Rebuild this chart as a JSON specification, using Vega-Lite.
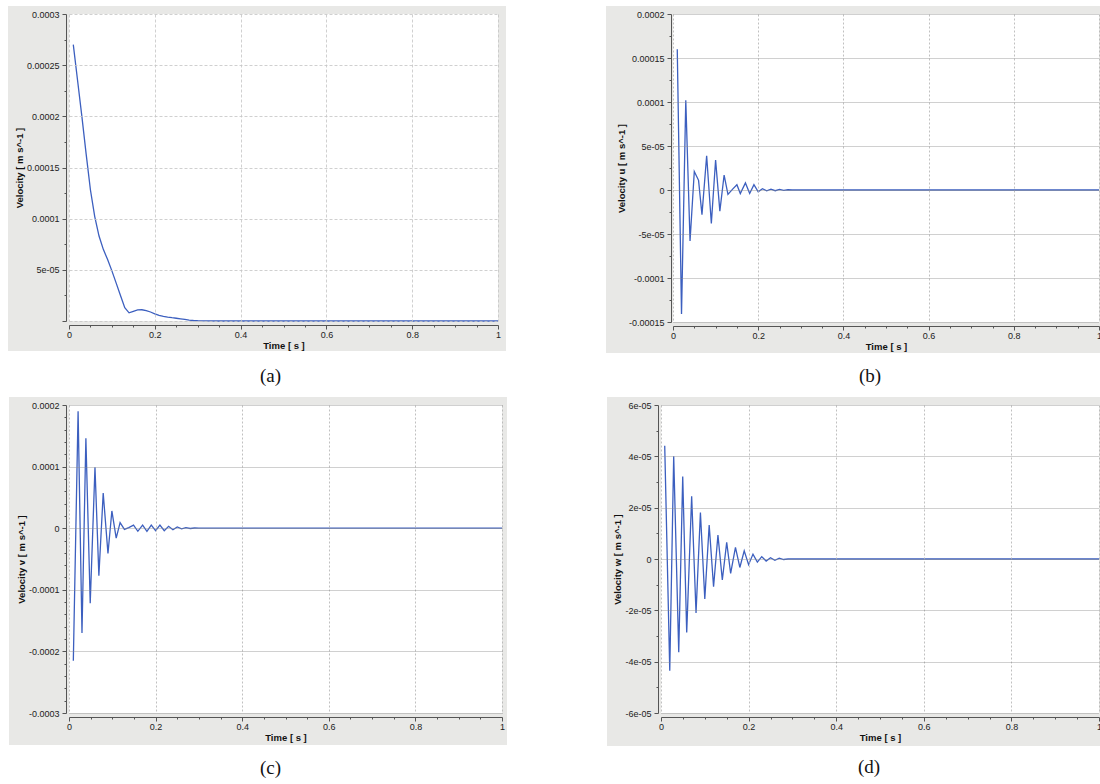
{
  "$schema": "https://vega.github.io/schema/vega-lite/v6.json",
  "padding": {"left": 7, "top": 5, "right": 0, "bottom": 0},
  "background": "white",
  "config": {
    "view": {"stroke": null},
    "axis": {
      "labelFont": "Liberation Sans", "labelFontSize": 9, "labelColor": "#222",
      "titleFont": "Liberation Sans", "titleFontSize": 9.5, "titleFontWeight": "bold", "titleColor": "#111",
      "domainColor": "#555", "tickColor": "#555", "labelFlush": false, "labelOverlap": false,
      "gridWidth": 0.8, "tickCount": 1000
    },
    "title": {"font": "Liberation Serif", "fontSize": 19, "fontWeight": "normal", "color": "#111"}
  },
  "datasets": {
    "a": [
      {"t": 0.01, "v": 0.00027}, {"t": 0.02, "v": 0.000235}, {"t": 0.03, "v": 0.0002}, {"t": 0.04, "v": 0.000163},
      {"t": 0.05, "v": 0.000128}, {"t": 0.06, "v": 0.000102}, {"t": 0.07, "v": 0.000083}, {"t": 0.08, "v": 0.00007},
      {"t": 0.09, "v": 0.00006}, {"t": 0.1, "v": 0.000049}, {"t": 0.11, "v": 0.000037}, {"t": 0.12, "v": 0.000025},
      {"t": 0.13, "v": 0.000013}, {"t": 0.14, "v": 0.000008}, {"t": 0.15, "v": 0.0000095}, {"t": 0.16, "v": 0.0000108},
      {"t": 0.17, "v": 0.000011}, {"t": 0.18, "v": 0.0000102}, {"t": 0.19, "v": 0.0000088}, {"t": 0.2, "v": 0.000007},
      {"t": 0.21, "v": 0.0000055}, {"t": 0.22, "v": 0.0000045}, {"t": 0.23, "v": 0.0000038}, {"t": 0.24, "v": 0.0000032},
      {"t": 0.25, "v": 0.0000027}, {"t": 0.26, "v": 0.0000021}, {"t": 0.27, "v": 0.0000015}, {"t": 0.28, "v": 0.0000009},
      {"t": 0.29, "v": 0.0000005}, {"t": 0.3, "v": 0.0000003}, {"t": 0.32, "v": 0.0000001}, {"t": 0.35, "v": 0},
      {"t": 0.4, "v": 0}, {"t": 0.5, "v": 0}, {"t": 0.6, "v": 0}, {"t": 0.7, "v": 0}, {"t": 0.8, "v": 0}, {"t": 0.9, "v": 0}, {"t": 1.0, "v": 0}
    ],
    "b": [
      {"t": 0.01, "v": 0.00016}, {"t": 0.02, "v": -0.000141}, {"t": 0.03, "v": 0.000102}, {"t": 0.04, "v": -0.000058},
      {"t": 0.05, "v": 0.000021}, {"t": 0.06, "v": 0.000011}, {"t": 0.068, "v": -0.000028}, {"t": 0.079, "v": 0.000039},
      {"t": 0.09, "v": -0.000038}, {"t": 0.1, "v": 0.000034}, {"t": 0.11, "v": -0.000024}, {"t": 0.12, "v": 0.000017},
      {"t": 0.129, "v": -0.000005}, {"t": 0.14, "v": 0.000001}, {"t": 0.15, "v": 0.000006}, {"t": 0.158, "v": -0.000004},
      {"t": 0.17, "v": 0.000008}, {"t": 0.18, "v": -0.000004}, {"t": 0.19, "v": 0.000006}, {"t": 0.2, "v": -0.000002},
      {"t": 0.21, "v": 0.0000015}, {"t": 0.22, "v": -0.000001}, {"t": 0.23, "v": 0.000001}, {"t": 0.24, "v": -0.0000008},
      {"t": 0.25, "v": 0.0000006}, {"t": 0.26, "v": -0.0000004}, {"t": 0.27, "v": 0.0000003}, {"t": 0.28, "v": 0},
      {"t": 0.3, "v": 0}, {"t": 0.4, "v": 0}, {"t": 0.5, "v": 0}, {"t": 0.6, "v": 0}, {"t": 0.7, "v": 0}, {"t": 0.8, "v": 0}, {"t": 0.9, "v": 0}, {"t": 1.0, "v": 0}
    ],
    "c": [
      {"t": 0.01, "v": -0.000215}, {"t": 0.021, "v": 0.00019}, {"t": 0.03, "v": -0.00017}, {"t": 0.039, "v": 0.000146},
      {"t": 0.049, "v": -0.000122}, {"t": 0.06, "v": 0.000099}, {"t": 0.069, "v": -0.000077}, {"t": 0.079, "v": 0.000057},
      {"t": 0.09, "v": -0.000041}, {"t": 0.099, "v": 0.000028}, {"t": 0.109, "v": -0.000016}, {"t": 0.118, "v": 0.000009},
      {"t": 0.128, "v": -0.000002}, {"t": 0.138, "v": 0.000001}, {"t": 0.149, "v": 0.000005}, {"t": 0.159, "v": -0.000005},
      {"t": 0.17, "v": 0.000005}, {"t": 0.18, "v": -0.000005}, {"t": 0.19, "v": 0.000005}, {"t": 0.2, "v": -0.000004},
      {"t": 0.21, "v": 0.000005}, {"t": 0.22, "v": -0.000004}, {"t": 0.23, "v": 0.000003}, {"t": 0.24, "v": -0.0000025},
      {"t": 0.25, "v": 0.000002}, {"t": 0.26, "v": -0.000001}, {"t": 0.27, "v": 0.0000008}, {"t": 0.28, "v": -0.0000005},
      {"t": 0.29, "v": 0.0000003}, {"t": 0.3, "v": 0}, {"t": 0.4, "v": 0}, {"t": 0.5, "v": 0}, {"t": 0.6, "v": 0},
      {"t": 0.7, "v": 0}, {"t": 0.8, "v": 0}, {"t": 0.9, "v": 0}, {"t": 1.0, "v": 0}
    ],
    "d": [
      {"t": 0.0085, "v": 0.0000441}, {"t": 0.02, "v": -0.0000435}, {"t": 0.029, "v": 0.00004}, {"t": 0.0405, "v": -0.0000363},
      {"t": 0.0496, "v": 0.0000321}, {"t": 0.0587, "v": -0.0000286}, {"t": 0.07, "v": 0.0000244}, {"t": 0.08, "v": -0.000021},
      {"t": 0.09, "v": 0.0000181}, {"t": 0.1, "v": -0.0000156}, {"t": 0.11, "v": 0.0000132}, {"t": 0.12, "v": -0.0000108},
      {"t": 0.13, "v": 0.0000093}, {"t": 0.14, "v": -0.0000082}, {"t": 0.15, "v": 0.0000065}, {"t": 0.159, "v": -0.0000056},
      {"t": 0.17, "v": 0.0000045}, {"t": 0.18, "v": -0.0000033}, {"t": 0.19, "v": 0.0000032}, {"t": 0.2, "v": -0.0000022},
      {"t": 0.21, "v": 0.0000019}, {"t": 0.22, "v": -0.0000012}, {"t": 0.23, "v": 0.0000009}, {"t": 0.24, "v": -0.0000008},
      {"t": 0.25, "v": 0.0000005}, {"t": 0.26, "v": -0.0000005}, {"t": 0.27, "v": 0.0000003}, {"t": 0.28, "v": -0.0000002},
      {"t": 0.29, "v": 0}, {"t": 0.3, "v": 0}, {"t": 0.4, "v": 0}, {"t": 0.5, "v": 0}, {"t": 0.6, "v": 0},
      {"t": 0.7, "v": 0}, {"t": 0.8, "v": 0}, {"t": 0.9, "v": 0}, {"t": 1.0, "v": 0}
    ]
  },
  "spacing": 9,
  "vconcat": [
    {
      "spacing": 99,
      "hconcat": [
        {
          "width": 429, "height": 307,
          "title": {"text": "(a)", "orient": "bottom", "offset": 16, "dx": -13},
          "layer": [
            {
              "data": {"values": [{}]},
              "mark": {"type": "rect", "color": "#e8e8e6"},
              "encoding": {
                "x": {"datum": -0.1422, "type": "quantitative", "scale": {"domain": [0, 1], "nice": false, "zero": false}},
                "x2": {"datum": 1.0186},
                "y": {"datum": 0.0003078, "type": "quantitative", "scale": {"domain": [0, 0.0003], "nice": false, "zero": false}},
                "y2": {"datum": -0.00002932}
              }
            },
            {
              "data": {"values": [{}]},
              "mark": {"type": "rect", "color": "white"},
              "encoding": {
                "x": {"datum": 0, "type": "quantitative", "scale": {"domain": [0, 1], "nice": false, "zero": false}},
                "x2": {"datum": 1},
                "y": {"datum": 0.0003, "type": "quantitative", "scale": {"domain": [0, 0.0003], "nice": false, "zero": false}},
                "y2": {"datum": 0}
              }
            },
            {
              "data": {"name": "a"},
              "mark": {"type": "line", "color": "#3c5fbf", "strokeWidth": 1.3},
              "encoding": {
                "x": {
                  "field": "t", "type": "quantitative",
                  "scale": {"domain": [0, 1], "nice": false, "zero": false},
                  "axis": {
                    "zindex": 1, "tickCount": 1000,
                    "title": "Time [ s ]", "offset": 4, "titlePadding": 1, "labelPadding": 1,
                    "values": [0, 0.05, 0.1, 0.15, 0.2, 0.25, 0.3, 0.35, 0.4, 0.45, 0.5, 0.55, 0.6, 0.65, 0.7, 0.75, 0.8, 0.85, 0.9, 0.95, 1],
                    "labelExpr": "round(datum.value*100) % 20 == 0 ? ''+datum.value : ''",
                    "tickSize": {"condition": {"test": "round(datum.value*100) % 20 == 0", "value": 4}, "value": 2},
                    "grid": true, "gridColor": "#c4c4c4", "gridDash": [3, 2],
                    "gridOpacity": {"condition": {"test": "round(datum.value*100) % 20 == 0", "value": 1}, "value": 0}
                  }
                },
                "y": {
                  "field": "v", "type": "quantitative",
                  "scale": {"domain": [0, 0.0003], "nice": false, "zero": false},
                  "axis": {
                    "zindex": 1, "tickCount": 1000,
                    "title": "Velocity [ m s^-1 ]", "offset": 3, "titlePadding": 2, "labelPadding": 3,
                    "values": [0, 0.000025, 0.00005, 0.000075, 0.0001, 0.000125, 0.00015, 0.000175, 0.0002, 0.000225, 0.00025, 0.000275, 0.0003],
                    "labelExpr": "round(datum.value*1000000) % 50 == 0 && datum.value != 0 ? (abs(datum.value) < 0.0001 ? (datum.value<0?'-':'') + replace(format(abs(datum.value),'.0e'),'e-','e-0') : ''+datum.value) : ''",
                    "tickSize": {"condition": {"test": "round(datum.value*1000000) % 50 == 0", "value": 4}, "value": 2},
                    "grid": true, "gridColor": "#c4c4c4", "gridDash": [3, 2],
                    "gridOpacity": {"condition": {"test": "round(datum.value*1000000) % 50 == 0", "value": 1}, "value": 0}
                  }
                }
              }
            }
          ]
        },
        {
          "width": 426, "height": 308,
          "title": {"text": "(b)", "orient": "bottom", "offset": 14, "dx": -16},
          "layer": [
            {
              "data": {"values": [{}]},
              "mark": {"type": "rect", "color": "#e8e8e6"},
              "encoding": {
                "x": {"datum": -0.1573, "type": "quantitative", "scale": {"domain": [0, 1], "nice": false, "zero": false}},
                "x2": {"datum": 1.007},
                "y": {"datum": 0.0002091, "type": "quantitative", "scale": {"domain": [-0.00015, 0.0002], "nice": false, "zero": false}},
                "y2": {"datum": -0.0001852}
              }
            },
            {
              "data": {"values": [{}]},
              "mark": {"type": "rect", "color": "white"},
              "encoding": {
                "x": {"datum": 0, "type": "quantitative", "scale": {"domain": [0, 1], "nice": false, "zero": false}},
                "x2": {"datum": 1},
                "y": {"datum": 0.0002, "type": "quantitative", "scale": {"domain": [-0.00015, 0.0002], "nice": false, "zero": false}},
                "y2": {"datum": -0.00015}
              }
            },
            {
              "data": {"name": "b"},
              "mark": {"type": "line", "color": "#3c5fbf", "strokeWidth": 1.3},
              "encoding": {
                "x": {
                  "field": "t", "type": "quantitative",
                  "scale": {"domain": [0, 1], "nice": false, "zero": false},
                  "axis": {
                    "zindex": 1, "tickCount": 1000,
                    "title": "Time [ s ]", "offset": 4, "titlePadding": 1, "labelPadding": 1,
                    "values": [0, 0.05, 0.1, 0.15, 0.2, 0.25, 0.3, 0.35, 0.4, 0.45, 0.5, 0.55, 0.6, 0.65, 0.7, 0.75, 0.8, 0.85, 0.9, 0.95, 1],
                    "labelExpr": "round(datum.value*100) % 20 == 0 ? ''+datum.value : ''",
                    "tickSize": {"condition": {"test": "round(datum.value*100) % 20 == 0", "value": 4}, "value": 2},
                    "grid": true, "gridColor": "#b0b0b0", "gridDash": [2, 2],
                    "gridOpacity": {"condition": {"test": "round(datum.value*100) % 20 == 0", "value": 1}, "value": 0}
                  }
                },
                "y": {
                  "field": "v", "type": "quantitative",
                  "scale": {"domain": [-0.00015, 0.0002], "nice": false, "zero": false},
                  "axis": {
                    "zindex": 1, "tickCount": 1000,
                    "title": "Velocity u [ m s^-1 ]", "offset": 2, "titlePadding": 2, "labelPadding": 3,
                    "values": [-0.00015, -0.000125, -0.0001, -0.000075, -0.00005, -0.000025, 0, 0.000025, 0.00005, 0.000075, 0.0001, 0.000125, 0.00015, 0.000175, 0.0002],
                    "labelExpr": "round(datum.value*1000000) % 50 == 0 ? (datum.value == 0 ? '0' : abs(datum.value) < 0.0001 ? (datum.value<0?'-':'') + replace(format(abs(datum.value),'.0e'),'e-','e-0') : ''+datum.value) : ''",
                    "tickSize": {"condition": {"test": "round(datum.value*1000000) % 50 == 0", "value": 4}, "value": 2},
                    "grid": true, "gridColor": "#888888", "gridDash": [1, 1],
                    "gridOpacity": {"condition": {"test": "round(datum.value*1000000) % 50 == 0", "value": 1}, "value": 0}
                  }
                }
              }
            }
          ]
        }
      ]
    },
    {
      "spacing": 99,
      "hconcat": [
        {
          "width": 433, "height": 308,
          "title": {"text": "(c)", "orient": "bottom", "offset": 14, "dx": -15},
          "layer": [
            {
              "data": {"values": [{}]},
              "mark": {"type": "rect", "color": "#e8e8e6"},
              "encoding": {
                "x": {"datum": -0.1386, "type": "quantitative", "scale": {"domain": [0, 1], "nice": false, "zero": false}},
                "x2": {"datum": 1.0115},
                "y": {"datum": 0.000213, "type": "quantitative", "scale": {"domain": [-0.0003, 0.0002], "nice": false, "zero": false}},
                "y2": {"datum": -0.000352}
              }
            },
            {
              "data": {"values": [{}]},
              "mark": {"type": "rect", "color": "white"},
              "encoding": {
                "x": {"datum": 0, "type": "quantitative", "scale": {"domain": [0, 1], "nice": false, "zero": false}},
                "x2": {"datum": 1},
                "y": {"datum": 0.0002, "type": "quantitative", "scale": {"domain": [-0.0003, 0.0002], "nice": false, "zero": false}},
                "y2": {"datum": -0.0003}
              }
            },
            {
              "data": {"name": "c"},
              "mark": {"type": "line", "color": "#3c5fbf", "strokeWidth": 1.3},
              "encoding": {
                "x": {
                  "field": "t", "type": "quantitative",
                  "scale": {"domain": [0, 1], "nice": false, "zero": false},
                  "axis": {
                    "zindex": 1, "tickCount": 1000,
                    "title": "Time [ s ]", "offset": 4, "titlePadding": 1, "labelPadding": 1,
                    "values": [0, 0.05, 0.1, 0.15, 0.2, 0.25, 0.3, 0.35, 0.4, 0.45, 0.5, 0.55, 0.6, 0.65, 0.7, 0.75, 0.8, 0.85, 0.9, 0.95, 1],
                    "labelExpr": "round(datum.value*100) % 20 == 0 ? ''+datum.value : ''",
                    "tickSize": {"condition": {"test": "round(datum.value*100) % 20 == 0", "value": 4}, "value": 2},
                    "grid": true, "gridColor": "#b0b0b0", "gridDash": [2, 2],
                    "gridOpacity": {"condition": {"test": "round(datum.value*100) % 20 == 0", "value": 1}, "value": 0}
                  }
                },
                "y": {
                  "field": "v", "type": "quantitative",
                  "scale": {"domain": [-0.0003, 0.0002], "nice": false, "zero": false},
                  "axis": {
                    "zindex": 1, "tickCount": 1000,
                    "title": "Velocity v [ m s^-1 ]", "offset": 3, "titlePadding": 2, "labelPadding": 3,
                    "values": [-0.0003, -0.00028, -0.00026, -0.00024, -0.00022, -0.0002, -0.00018, -0.00016, -0.00014, -0.00012, -0.0001, -0.00008, -0.00006, -0.00004, -0.00002, 0, 0.00002, 0.00004, 0.00006, 0.00008, 0.0001, 0.00012, 0.00014, 0.00016, 0.00018, 0.0002],
                    "labelExpr": "round(datum.value*100000) % 10 == 0 ? ''+datum.value : ''",
                    "tickSize": {"condition": {"test": "round(datum.value*100000) % 10 == 0", "value": 4}, "value": 2},
                    "grid": true, "gridColor": "#888888", "gridDash": [1, 1],
                    "gridOpacity": {"condition": {"test": "round(datum.value*100000) % 10 == 0", "value": 1}, "value": 0}
                  }
                }
              }
            }
          ]
        },
        {
          "width": 438, "height": 308,
          "title": {"text": "(d)", "orient": "bottom", "offset": 12, "dx": -11},
          "layer": [
            {
              "data": {"values": [{}]},
              "mark": {"type": "rect", "color": "#e8e8e6"},
              "encoding": {
                "x": {"datum": -0.1233, "type": "quantitative", "scale": {"domain": [0, 1], "nice": false, "zero": false}},
                "x2": {"datum": 1.0091},
                "y": {"datum": 0.00006312, "type": "quantitative", "scale": {"domain": [-0.00006, 0.00006], "nice": false, "zero": false}},
                "y2": {"datum": -0.00007286}
              }
            },
            {
              "data": {"values": [{}]},
              "mark": {"type": "rect", "color": "white"},
              "encoding": {
                "x": {"datum": 0, "type": "quantitative", "scale": {"domain": [0, 1], "nice": false, "zero": false}},
                "x2": {"datum": 1},
                "y": {"datum": 0.00006, "type": "quantitative", "scale": {"domain": [-0.00006, 0.00006], "nice": false, "zero": false}},
                "y2": {"datum": -0.00006}
              }
            },
            {
              "data": {"name": "d"},
              "mark": {"type": "line", "color": "#3c5fbf", "strokeWidth": 1.3},
              "encoding": {
                "x": {
                  "field": "t", "type": "quantitative",
                  "scale": {"domain": [0, 1], "nice": false, "zero": false},
                  "axis": {
                    "zindex": 1, "tickCount": 1000,
                    "title": "Time [ s ]", "offset": 4, "titlePadding": 1, "labelPadding": 1,
                    "values": [0, 0.05, 0.1, 0.15, 0.2, 0.25, 0.3, 0.35, 0.4, 0.45, 0.5, 0.55, 0.6, 0.65, 0.7, 0.75, 0.8, 0.85, 0.9, 0.95, 1],
                    "labelExpr": "round(datum.value*100) % 20 == 0 ? ''+datum.value : ''",
                    "tickSize": {"condition": {"test": "round(datum.value*100) % 20 == 0", "value": 4}, "value": 2},
                    "grid": true, "gridColor": "#b0b0b0", "gridDash": [2, 2],
                    "gridOpacity": {"condition": {"test": "round(datum.value*100) % 20 == 0", "value": 1}, "value": 0}
                  }
                },
                "y": {
                  "field": "v", "type": "quantitative",
                  "scale": {"domain": [-0.00006, 0.00006], "nice": false, "zero": false},
                  "axis": {
                    "zindex": 1, "tickCount": 1000,
                    "title": "Velocity w [ m s^-1 ]", "offset": 3, "titlePadding": 2, "labelPadding": 3,
                    "values": [-0.00006, -0.00005, -0.00004, -0.00003, -0.00002, -0.00001, 0, 0.00001, 0.00002, 0.00003, 0.00004, 0.00005, 0.00006],
                    "labelExpr": "round(datum.value*100000) % 2 == 0 ? (datum.value == 0 ? '0' : (datum.value<0?'-':'') + replace(format(abs(datum.value),'.0e'),'e-','e-0')) : ''",
                    "tickSize": {"condition": {"test": "round(datum.value*100000) % 2 == 0", "value": 4}, "value": 2},
                    "grid": true, "gridColor": "#888888", "gridDash": [1, 1],
                    "gridOpacity": {"condition": {"test": "round(datum.value*100000) % 2 == 0", "value": 1}, "value": 0}
                  }
                }
              }
            }
          ]
        }
      ]
    }
  ]
}
